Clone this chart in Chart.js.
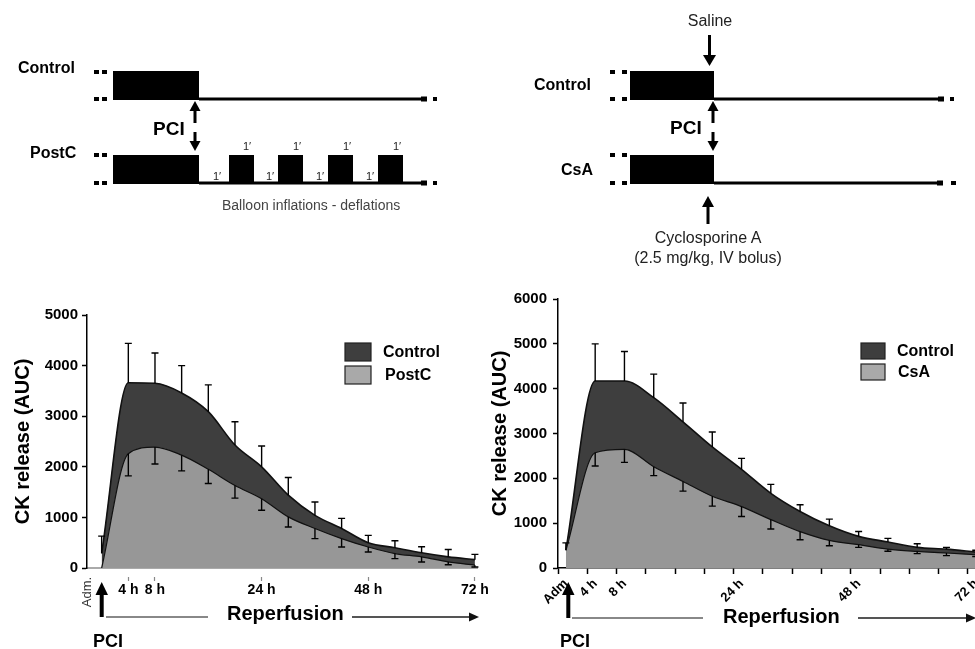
<!DOCTYPE html>
<html>
<head>
<meta charset="utf-8">
<script src="https://cdn.jsdelivr.net/npm/chart.js@4.4.1/dist/chart.umd.min.js"></script>
<style>
  html, body { margin: 0; padding: 0; background: #fff; }
  #wrap { position: relative; width: 975px; height: 649px; overflow: hidden; }
  #leftChart { position: absolute; left: 0; top: 290px; }
  #rightChart { position: absolute; left: 485px; top: 284px; }
  #art { position: absolute; left: 0; top: 0; pointer-events: none; font-family: "Liberation Sans", Arial, sans-serif; }
</style>
</head>
<body>
<div id="wrap">
  <canvas id="leftChart" width="490" height="359"></canvas>
  <canvas id="rightChart" width="520" height="365"></canvas>

  <svg id="art" width="975" height="649" viewBox="0 0 975 649">
    <!-- protocol: postconditioning -->
    <g fill="#000">
      <rect x="94" y="70" width="5" height="4"/><rect x="102" y="70" width="5" height="4"/>
      <rect x="94" y="97" width="5" height="4"/><rect x="102" y="97" width="5" height="4"/>
      <rect x="113" y="71" width="86" height="29"/>
      <rect x="199" y="97.5" width="223" height="3"/>
      <rect x="421" y="96.5" width="6" height="5"/><rect x="433" y="97" width="4" height="4"/>

      <rect x="94" y="153" width="5" height="4"/><rect x="102" y="153" width="5" height="4"/>
      <rect x="94" y="181" width="5" height="4"/><rect x="102" y="181" width="5" height="4"/>
      <rect x="113" y="155" width="86" height="29"/>
      <rect x="199" y="181.5" width="223" height="3"/>
      <rect x="421" y="180.5" width="6" height="5"/><rect x="433" y="181" width="4" height="4"/>
      <rect x="229" y="155" width="25" height="28"/>
      <rect x="278" y="155" width="25" height="28"/>
      <rect x="328" y="155" width="25" height="28"/>
      <rect x="378" y="155" width="25" height="28"/>

      <polygon points="195,101 189.5,111 200.5,111"/><rect x="193.5" y="110" width="3" height="13"/>
      <rect x="193.5" y="132" width="3" height="10"/><polygon points="189.5,141 200.5,141 195,151"/>
    </g>
    <text x="18" y="73" font-size="16" font-weight="bold">Control</text>
    <text x="30" y="158" font-size="16" font-weight="bold">PostC</text>
    <text x="153" y="135" font-size="19" font-weight="bold">PCI</text>
    <g font-size="11" text-anchor="middle" fill="#222">
      <text x="247" y="150">1′</text><text x="297" y="150">1′</text>
      <text x="347" y="150">1′</text><text x="397" y="150">1′</text>
      <text x="217" y="180">1′</text><text x="270" y="180">1′</text>
      <text x="320" y="180">1′</text><text x="370" y="180">1′</text>
    </g>
    <text x="222" y="210" font-size="14" fill="#444">Balloon inflations - deflations</text>

    <!-- protocol: cyclosporine -->
    <text x="710" y="26" font-size="16" text-anchor="middle" fill="#222">Saline</text>
    <g fill="#000">
      <rect x="708" y="35" width="3" height="21"/><polygon points="703,55 716,55 709.5,66"/>
      <rect x="610" y="70" width="5" height="4"/><rect x="622" y="70" width="5" height="4"/>
      <rect x="610" y="97" width="5" height="4"/><rect x="622" y="97" width="5" height="4"/>
      <rect x="630" y="71" width="84" height="29"/>
      <rect x="714" y="97.5" width="224" height="3"/>
      <rect x="938" y="96.5" width="6" height="5"/><rect x="950" y="97" width="4" height="4"/>

      <rect x="610" y="153" width="5" height="4"/><rect x="622" y="153" width="5" height="4"/>
      <rect x="610" y="181" width="5" height="4"/><rect x="622" y="181" width="5" height="4"/>
      <rect x="630" y="155" width="84" height="29"/>
      <rect x="714" y="181.5" width="224" height="3"/>
      <rect x="937" y="180.5" width="6" height="5"/><rect x="951" y="181" width="5" height="4"/>

      <polygon points="713,101 707.5,111 718.5,111"/><rect x="711.5" y="110" width="3" height="13"/>
      <rect x="711.5" y="132" width="3" height="10"/><polygon points="707.5,141 718.5,141 713,151"/>

      <polygon points="708,196 702,207 714,207"/><rect x="706.5" y="206" width="3" height="18"/>
    </g>
    <text x="534" y="90" font-size="16" font-weight="bold">Control</text>
    <text x="561" y="175" font-size="16" font-weight="bold">CsA</text>
    <text x="670" y="134" font-size="19" font-weight="bold">PCI</text>
    <text x="708" y="243" font-size="16" text-anchor="middle" fill="#222">Cyclosporine A</text>
    <text x="708" y="263" font-size="16" text-anchor="middle" fill="#222">(2.5 mg/kg, IV bolus)</text>

    <!-- time axis notes under the charts -->
    <text transform="translate(91,592) rotate(-90)" font-size="13" text-anchor="middle" fill="#333">Adm.</text>
    <g fill="#000">
      <polygon points="101.7,582 95.5,595 108,595"/><rect x="99.7" y="594" width="4" height="23"/>
      <polygon points="568.3,582 562,595 574.5,595"/><rect x="566.3" y="594" width="4" height="24"/>
    </g>
    <text x="93" y="647" font-size="18" font-weight="bold">PCI</text>
    <text x="560" y="647" font-size="18" font-weight="bold">PCI</text>
    <text x="227" y="620" font-size="20" font-weight="bold">Reperfusion</text>
    <text x="723" y="623" font-size="20" font-weight="bold">Reperfusion</text>
    <g stroke="#888" stroke-width="2">
      <line x1="106" y1="617" x2="208" y2="617"/>
      <line x1="352" y1="617" x2="470" y2="617" stroke="#555"/>
      <line x1="572" y1="618" x2="703" y2="618"/>
      <line x1="858" y1="618" x2="967" y2="618" stroke="#555"/>
    </g>
    <g fill="#111">
      <polygon points="479,617 469,612.5 469,621.5"/>
      <polygon points="976,618 966,613.5 966,622.5"/>
    </g>
  </svg>
</div>

<script>
// time points, equally spaced on the axis
const timeLabels = ['Adm.', '4 h', '8 h', '12 h', '16 h', '20 h', '24 h', '30 h', '36 h', '42 h', '48 h', '54 h', '60 h', '66 h', '72 h'];
const leftTickLabels = ['', '4 h', '8 h', '', '', '', '24 h', '', '', '', '48 h', '', '', '', '72 h'];
const rightTickLabels = ['Adm', '4 h', '8 h', '', '', '', '24 h', '', '', '', '48 h', '', '', '', '72 h'];
const leftYTicks = [0, 1000, 2000, 3000, 4000, 5000];
const rightYTicks = [0, 1000, 2000, 3000, 4000, 5000, 6000];

// left panel: Control vs PostC (mean, SD)
const postcControl   = [290, 3660, 3650, 3460, 3090, 2430, 2000, 1440, 1040, 780, 500, 400, 300, 220, 165];
const postcControlSD = [340, 780, 600, 540, 530, 460, 410, 350, 265, 200, 145, 140, 120, 145, 105];
const postcValues    = [0, 2260, 2390, 2230, 1950, 1630, 1370, 1010, 780, 580, 415, 285, 220, 120, 55];
const postcSD        = [0, 440, 335, 310, 280, 250, 230, 200, 200, 165, 100, 100, 100, 55, 35];

// right panel: Control vs CsA (mean, SD)
const csaControl   = [400, 4170, 4170, 3800, 3260, 2700, 2200, 1665, 1260, 940, 705, 580, 460, 420, 355];
const csaControlSD = [160, 830, 660, 525, 420, 335, 245, 200, 150, 150, 110, 80, 80, 40, 40];
const csaValues    = [390, 2570, 2645, 2260, 1930, 1600, 1370, 1080, 810, 615, 520, 420, 370, 335, 295];
const csaSD        = [0, 295, 290, 200, 215, 220, 220, 210, 180, 120, 60, 45, 50, 60, 40];

const DARK = '#3e3e3e';
const LIGHT = '#979797';
const LIGHT_KEY = '#a9a9a9';
const FONT = '"Liberation Sans", Arial, sans-serif';
Chart.defaults.font.family = FONT;
Chart.defaults.color = '#000';

const toXY = arr => arr.map((v, i) => ({ x: i, y: v }));

// SD whiskers: up for control, down for treated group
const errorBarPlugin = {
  id: 'errorBars',
  afterDatasetsDraw(chart, args, opts) {
    const ctx = chart.ctx;
    const yScale = chart.scales.y;
    ctx.save();
    ctx.strokeStyle = '#000';
    ctx.lineWidth = opts.width;
    opts.sets.forEach(set => {
      const meta = chart.getDatasetMeta(set.dataset);
      const vals = chart.data.datasets[set.dataset].data;
      meta.data.forEach((pt, i) => {
        const sd = set.sd[i];
        if (!sd) return;
        const y0 = yScale.getPixelForValue(vals[i].y);
        const y1 = yScale.getPixelForValue(vals[i].y + set.dir * sd);
        ctx.beginPath();
        ctx.moveTo(pt.x, y0);
        ctx.lineTo(pt.x, y1);
        ctx.moveTo(pt.x - opts.cap, y1);
        ctx.lineTo(pt.x + opts.cap, y1);
        ctx.stroke();
      });
    });
    ctx.restore();
  }
};

// boxed legend inside the plot
const boxLegend = {
  id: 'boxLegend',
  afterDraw(chart, args, opts) {
    const ctx = chart.ctx;
    ctx.save();
    chart.data.datasets.forEach((ds, i) => {
      const y = opts.y + i * opts.gap;
      ctx.fillStyle = opts.colors[i];
      ctx.fillRect(opts.x, y, opts.w, opts.h);
      ctx.strokeStyle = '#222';
      ctx.lineWidth = 1.2;
      ctx.strokeRect(opts.x, y, opts.w, opts.h);
      ctx.fillStyle = '#000';
      ctx.font = 'bold 16px ' + FONT;
      ctx.textBaseline = 'middle';
      ctx.fillText(ds.label, opts.x + opts.w + opts.textGap[i], y + opts.h / 2 + 1);
    });
    ctx.restore();
  }
};

function areaSet(label, values, color, order, bw) {
  return {
    label,
    data: toXY(values),
    fill: 'origin',
    backgroundColor: color,
    borderColor: '#111',
    borderWidth: bw,
    pointRadius: 0,
    cubicInterpolationMode: 'monotone',
    order
  };
}

function yAxis(max, ticksArr, width, titlePad, tickPad) {
  return {
    min: 0,
    max,
    afterFit: s => { s.width = width; },
    afterBuildTicks: s => { s.ticks = ticksArr.map(v => ({ value: v })); },
    ticks: { padding: tickPad, font: { size: 15, weight: 'bold' }, color: '#000', callback: v => String(v) },
    grid: { drawOnChartArea: false, tickLength: 5, tickColor: '#000', tickWidth: 1.5 },
    border: { color: '#000', width: 1.5 },
    title: { display: true, text: 'CK release (AUC)', font: { size: 20, weight: 'bold' }, color: '#000', padding: { top: titlePad, bottom: 0 } }
  };
}

new Chart(document.getElementById('leftChart'), {
  type: 'line',
  data: {
    datasets: [
      areaSet('Control', postcControl, DARK, 2, 1.6),
      areaSet('PostC', postcValues, LIGHT, 1, 1.2)
    ]
  },
  options: {
    responsive: false,
    animation: false,
    layout: { padding: { left: 0, top: 25, right: 12, bottom: 0 } },
    plugins: {
      legend: { display: false },
      tooltip: { enabled: false },
      errorBars: {
        width: 1.4, cap: 3.5,
        sets: [{ dataset: 0, sd: postcControlSD, dir: 1 }, { dataset: 1, sd: postcSD, dir: -1 }]
      },
      boxLegend: { x: 345, y: 53, w: 26, h: 18, gap: 23, colors: [DARK, LIGHT_KEY], textGap: [12, 14] }
    },
    scales: {
      x: {
        type: 'linear',
        min: -0.55,
        max: 14.1,
        afterFit: s => { s.height = 81; },
        afterBuildTicks: s => { s.ticks = timeLabels.map((_, i) => ({ value: i })); },
        ticks: { autoSkip: false, maxRotation: 0, padding: 1, font: { size: 14, weight: 'bold' }, color: '#000',
                 callback: (v, i) => leftTickLabels[i] },
        grid: { drawOnChartArea: false, tickLength: 13, tickWidth: 1.2,
                tickColor: c => leftTickLabels[c.index] ? '#888' : 'rgba(0,0,0,0)',
                tickBorderDash: [0, 8, 5, 60] },
        border: { color: '#aaa', width: 2 }
      },
      y: yAxis(5000, leftYTicks, 87, 11, 4)
    }
  },
  plugins: [errorBarPlugin, boxLegend]
});

new Chart(document.getElementById('rightChart'), {
  type: 'line',
  data: {
    datasets: [
      areaSet('Control', csaControl, DARK, 2, 1.6),
      areaSet('CsA', csaValues, LIGHT, 1, 1.2)
    ]
  },
  options: {
    responsive: false,
    animation: false,
    layout: { padding: { left: 0, top: 0, right: 0, bottom: 0 } },
    plugins: {
      legend: { display: false },
      tooltip: { enabled: false },
      errorBars: {
        width: 1.4, cap: 3.5,
        sets: [{ dataset: 0, sd: csaControlSD, dir: 1 }, { dataset: 1, sd: csaSD, dir: -1 }]
      },
      boxLegend: { x: 376, y: 59, w: 24, h: 16, gap: 21, colors: [DARK, LIGHT_KEY], textGap: [12, 13] }
    },
    scales: {
      x: {
        type: 'linear',
        min: -0.27,
        max: 15,
        afterFit: s => { s.height = 81; },
        afterBuildTicks: s => { s.ticks = timeLabels.map((_, i) => ({ value: i - 0.27 })); },
        ticks: { autoSkip: false, minRotation: 45, maxRotation: 45, padding: 2, labelOffset: 8,
                 font: { size: 13, weight: 'bold' }, color: '#000',
                 callback: (v, i) => rightTickLabels[i] },
        grid: { drawOnChartArea: false, tickLength: 6, tickWidth: 1.5, tickColor: '#000' },
        border: { color: '#000', width: 1.5 }
      },
      y: yAxis(6000, rightYTicks, 73, 3, 6)
    }
  },
  plugins: [errorBarPlugin, boxLegend]
});
</script>
</body>
</html>
